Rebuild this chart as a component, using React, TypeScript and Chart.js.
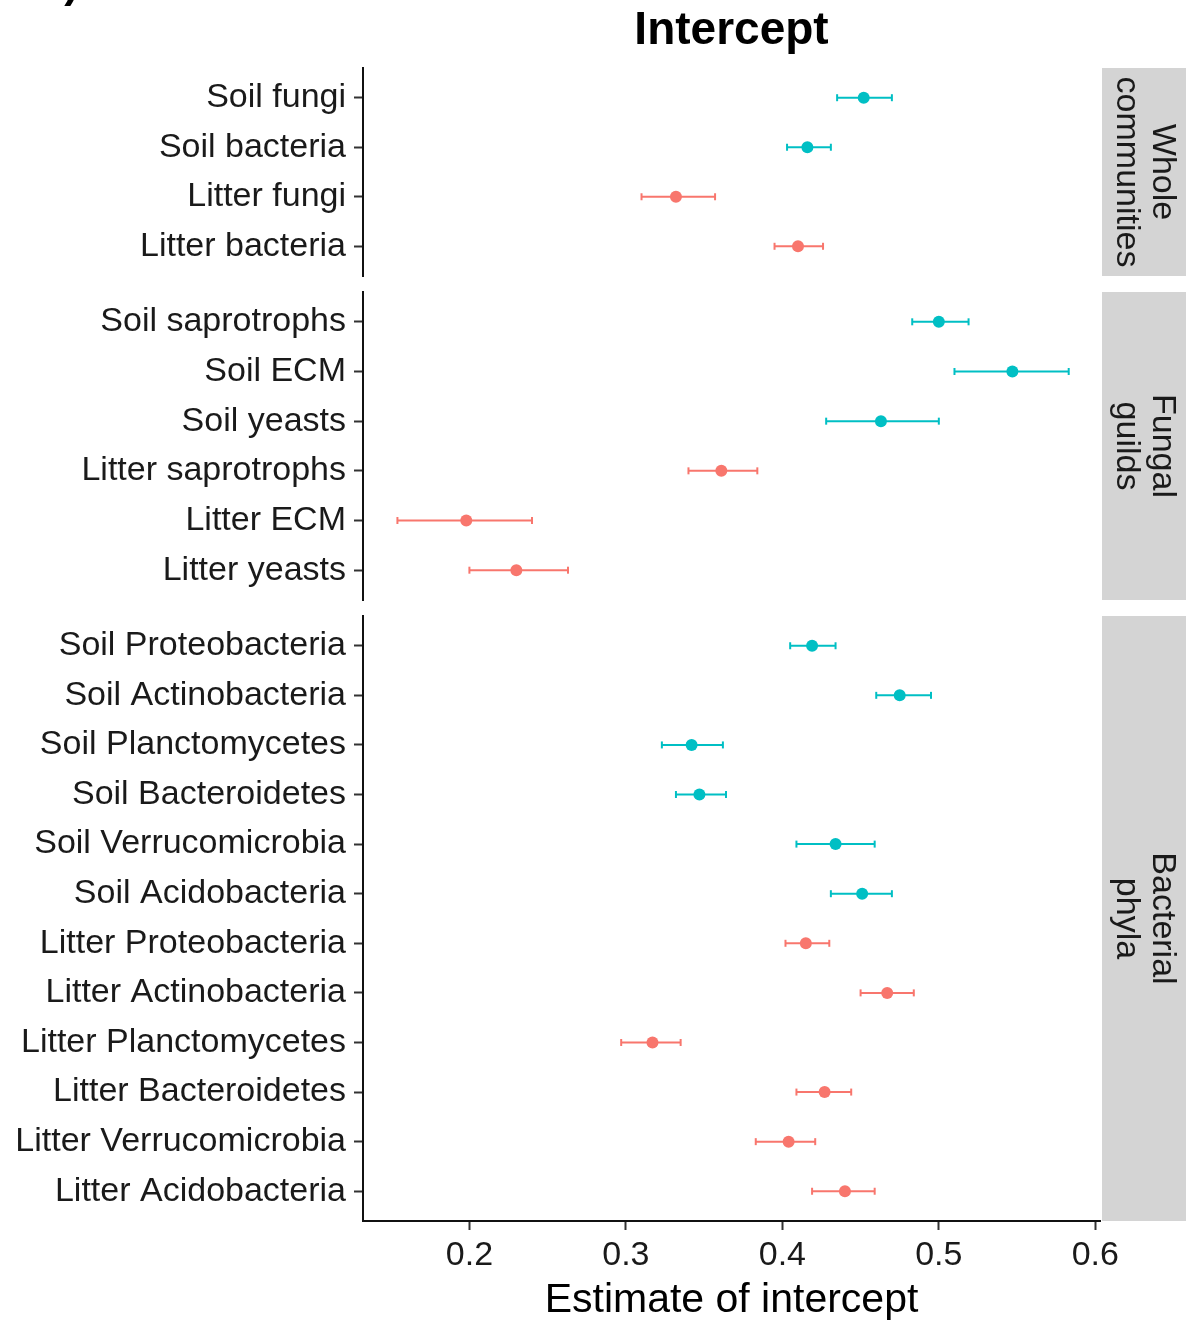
import React, { useEffect, useRef } from 'react';
import { Chart, registerables } from 'chart.js';
Chart.register(...registerables);

const FONT = "'Liberation Sans', Arial, Helvetica, sans-serif";
const SOIL_COLOR = '#00BFC4';
const LITTER_COLOR = '#F8766D';

// ---- x axis ----
const xTicks = [0.2, 0.3, 0.4, 0.5, 0.6];
const xMin = 0.132;
const xMax = 0.603;

// ---- Panel 1: Whole communities ----
const wholeLabels = ['Soil fungi', 'Soil bacteria', 'Litter fungi', 'Litter bacteria'];
const wholeHabitat = ['Soil', 'Soil', 'Litter', 'Litter'];
const wholeEst = [0.452, 0.416, 0.332, 0.410];
const wholeLo = [0.435, 0.403, 0.310, 0.395];
const wholeHi = [0.470, 0.431, 0.357, 0.426];
const wholeStrip = ['Whole', 'communities'];

// ---- Panel 2: Fungal guilds ----
const guildLabels = ['Soil saprotrophs', 'Soil ECM', 'Soil yeasts', 'Litter saprotrophs', 'Litter ECM', 'Litter yeasts'];
const guildHabitat = ['Soil', 'Soil', 'Soil', 'Litter', 'Litter', 'Litter'];
const guildEst = [0.500, 0.547, 0.463, 0.361, 0.198, 0.230];
const guildLo = [0.483, 0.510, 0.428, 0.340, 0.154, 0.200];
const guildHi = [0.519, 0.583, 0.500, 0.384, 0.240, 0.263];
const guildStrip = ['Fungal', 'guilds'];

// ---- Panel 3: Bacterial phyla ----
const phylaLabels = [
  'Soil Proteobacteria', 'Soil Actinobacteria', 'Soil Planctomycetes', 'Soil Bacteroidetes',
  'Soil Verrucomicrobia', 'Soil Acidobacteria', 'Litter Proteobacteria', 'Litter Actinobacteria',
  'Litter Planctomycetes', 'Litter Bacteroidetes', 'Litter Verrucomicrobia', 'Litter Acidobacteria',
];
const phylaHabitat = ['Soil', 'Soil', 'Soil', 'Soil', 'Soil', 'Soil', 'Litter', 'Litter', 'Litter', 'Litter', 'Litter', 'Litter'];
const phylaEst = [0.419, 0.475, 0.342, 0.347, 0.434, 0.451, 0.415, 0.467, 0.317, 0.427, 0.404, 0.440];
const phylaLo = [0.405, 0.460, 0.323, 0.332, 0.409, 0.431, 0.402, 0.450, 0.297, 0.409, 0.383, 0.419];
const phylaHi = [0.434, 0.495, 0.362, 0.364, 0.459, 0.470, 0.430, 0.484, 0.335, 0.444, 0.421, 0.459];
const phylaStrip = ['Bacterial', 'phyla'];

const W = 1186;
const PLOT_LEFT = 363;
const STRIP_SPACE = 86;

type PanelCfg = {
  labels: string[];
  habitat: string[];
  est: number[];
  lo: number[];
  hi: number[];
  strip: string[];
  top: number;
  height: number;
  padTop: number;
  padBottom: number;
  first: boolean;
  last: boolean;
};

const panels: PanelCfg[] = [
  { labels: wholeLabels, habitat: wholeHabitat, est: wholeEst, lo: wholeLo, hi: wholeHi, strip: wholeStrip,
    top: 0, height: 286, padTop: 0, padBottom: 10, first: true, last: false },
  { labels: guildLabels, habitat: guildHabitat, est: guildEst, lo: guildLo, hi: guildHi, strip: guildStrip,
    top: 282, height: 328, padTop: 10, padBottom: 10, first: false, last: false },
  { labels: phylaLabels, habitat: phylaHabitat, est: phylaEst, lo: phylaLo, hi: phylaHi, strip: phylaStrip,
    top: 606, height: 715, padTop: 10, padBottom: 0, first: false, last: true },
];

const colorOf = (h: string) => (h === 'Soil' ? SOIL_COLOR : LITTER_COLOR);

function makeStripPlugin(lines: string[], first: boolean) {
  return {
    id: 'facetStrip',
    afterDraw(chart: any) {
      const { ctx, chartArea } = chart;
      const x0 = chartArea.right + 2;
      const x1 = chart.width;
      ctx.save();
      ctx.fillStyle = '#D4D4D4';
      ctx.fillRect(x0, chartArea.top, x1 - x0, chartArea.bottom - chartArea.top);
      ctx.translate((x0 + x1) / 2, (chartArea.top + chartArea.bottom) / 2);
      ctx.rotate(Math.PI / 2);
      ctx.font = `34px ${FONT}`;
      ctx.fillStyle = '#1a1a1a';
      ctx.textAlign = 'center';
      ctx.textBaseline = 'middle';
      const lh = 36;
      lines.forEach((t, k) => ctx.fillText(t, 0, (k - (lines.length - 1) / 2) * lh));
      ctx.restore();
      if (first) {
        ctx.save();
        ctx.font = `bold 44px ${FONT}`;
        ctx.fillStyle = '#000';
        ctx.textAlign = 'right';
        ctx.textBaseline = 'alphabetic';
        ctx.fillText('b)', 79, -3);
        ctx.restore();
      }
    },
  };
}

function makeConfig(p: PanelCfg): any {
  const n = p.labels.length;
  const datasets: any[] = [];
  datasets.push({
    data: p.labels.map((_, i) => ({ x: p.est[i], y: i })),
    pointRadius: 6,
    pointHoverRadius: 6,
    pointBackgroundColor: p.habitat.map(colorOf),
    pointBorderWidth: 0,
    showLine: false,
    order: 0,
  });
  p.labels.forEach((_, i) => {
    const c = colorOf(p.habitat[i]);
    datasets.push({
      data: [{ x: p.lo[i], y: i }, { x: p.hi[i], y: i }],
      showLine: true,
      borderColor: c,
      borderWidth: 2,
      pointStyle: 'line',
      pointRadius: 3.5,
      pointHoverRadius: 3.5,
      pointRotation: 90,
      pointBorderColor: c,
      pointBorderWidth: 2,
      order: 1,
    });
  });

  return {
    type: 'scatter',
    data: { datasets },
    plugins: [makeStripPlugin(p.strip, p.first)],
    options: {
      responsive: false,
      animation: false,
      events: [],
      layout: { padding: { top: p.padTop, bottom: p.padBottom, left: 0, right: STRIP_SPACE } },
      plugins: {
        legend: { display: false },
        tooltip: { enabled: false },
        title: {
          display: p.first,
          text: 'Intercept',
          fullSize: false,
          color: '#000',
          font: { family: FONT, size: 46, weight: 'bold', lineHeight: 1 },
          padding: { top: 8, bottom: 14 },
        },
      },
      scales: {
        x: {
          type: 'linear',
          min: xMin,
          max: xMax,
          display: p.last,
          afterBuildTicks: (s: any) => {
            s.ticks = xTicks.map((v) => ({ value: v }));
          },
          afterFit: (s: any) => {
            if (p.last) s.height = 100;
            s.paddingLeft = 0;
            s.paddingRight = 0;
          },
          ticks: {
            callback: (v: any) => Number(v).toFixed(1),
            font: { family: FONT, size: 34 },
            color: '#1a1a1a',
            padding: 5,
            maxRotation: 0,
            autoSkip: false,
          },
          grid: { drawOnChartArea: false, drawTicks: true, tickLength: 9, tickWidth: 2, tickColor: '#333' },
          border: { display: true, color: '#111', width: 2 },
          title: {
            display: true,
            text: 'Estimate of intercept',
            color: '#000',
            font: { family: FONT, size: 41, lineHeight: 1 },
            padding: { top: 0, bottom: 0 },
          },
        },
        y: {
          type: 'linear',
          reverse: true,
          min: -0.6,
          max: n - 1 + 0.6,
          afterBuildTicks: (s: any) => {
            s.ticks = p.labels.map((_, i) => ({ value: i }));
          },
          afterFit: (s: any) => {
            s.width = PLOT_LEFT;
            s.paddingTop = 0;
            s.paddingBottom = 0;
          },
          ticks: {
            callback: (v: any) => p.labels[Math.round(Number(v))],
            font: { family: FONT, size: 34 },
            color: '#1a1a1a',
            padding: 8,
            autoSkip: false,
          },
          grid: { drawOnChartArea: false, drawTicks: true, tickLength: 9, tickWidth: 2, tickColor: '#333' },
          border: { display: true, color: '#111', width: 2 },
        },
      },
    },
  };
}

function Panel({ cfg }: { cfg: PanelCfg }) {
  const ref = useRef<HTMLCanvasElement>(null);
  useEffect(() => {
    if (!ref.current) return;
    const chart = new Chart(ref.current, makeConfig(cfg));
    return () => chart.destroy();
  }, [cfg]);
  return (
    <canvas
      ref={ref}
      width={W}
      height={cfg.height}
      style={{ position: 'absolute', left: 0, top: cfg.top, width: W, height: cfg.height }}
    />
  );
}

export default function App() {
  return (
    <div style={{ position: 'absolute', left: 0, top: 0, width: W, height: 1321, background: '#fff', overflow: 'hidden' }}>
      {panels.map((p, i) => (
        <Panel key={i} cfg={p} />
      ))}
    </div>
  );
}
